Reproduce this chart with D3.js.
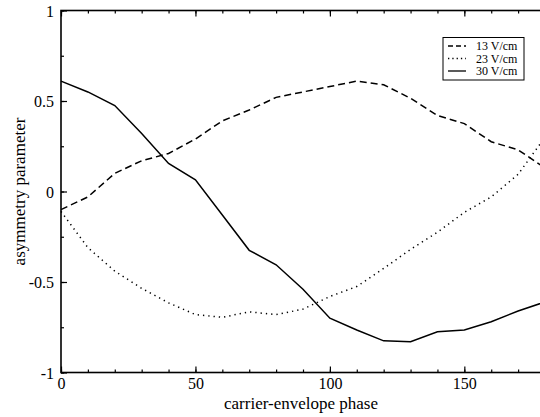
<!DOCTYPE html>
<html>
<head>
<meta charset="utf-8">
<script src="https://cdn.jsdelivr.net/npm/d3@7"></script>
<style>
  html, body { margin: 0; padding: 0; background: #fff; }
  svg { display: block; overflow: hidden; }
  text { font-family: "Liberation Serif", "Times New Roman", serif; fill: #000; }
</style>
</head>
<body>
<svg id="chart" width="540" height="417"></svg>
<script>
// Carrier-envelope phase samples (degrees)
const phase = [0, 10, 20, 30, 40, 50, 60, 70, 80, 90, 100, 110, 120, 130, 140, 150, 160, 170, 180];

// Asymmetry parameter for each field strength
const asym13 = [-0.10, -0.03, 0.10, 0.17, 0.21, 0.29, 0.39, 0.45, 0.52, 0.55, 0.58, 0.61, 0.59, 0.515, 0.42, 0.375, 0.275, 0.23, 0.13];
const asym23 = [-0.11, -0.31, -0.44, -0.535, -0.615, -0.68, -0.695, -0.665, -0.68, -0.65, -0.58, -0.525, -0.425, -0.32, -0.225, -0.115, -0.03, 0.095, 0.30];
const asym30 = [0.61, 0.55, 0.475, 0.32, 0.155, 0.065, -0.13, -0.325, -0.405, -0.54, -0.70, -0.765, -0.825, -0.83, -0.775, -0.765, -0.72, -0.66, -0.61];

const seriesNames = ["13 V/cm", "23 V/cm", "30 V/cm"];
const xMajorTicks = [0, 50, 100, 150];
const yMajorTicks = [-1, -0.5, 0, 0.5, 1];
const yTickLabels = ["-1", "-0.5", "0", "0.5", "1"];

const svg = d3.select("#chart");
const mLeft = 61, mRight = 545, mTop = 10.5, mBottom = 372.5;

const x = d3.scaleLinear().domain([0, 180]).range([mLeft, mRight]);
const y = d3.scaleLinear().domain([-1, 1]).range([mBottom, mTop]);

const series = [
  { name: seriesNames[0], values: asym13, dash: "7,4" },
  { name: seriesNames[1], values: asym23, dash: "1.3,4" },
  { name: seriesNames[2], values: asym30, dash: null }
];

const line = d3.line().x((d, i) => x(phase[i])).y(d => y(d));

// Data curves
const curves = svg.append("g");
series.forEach(s => {
  const p = curves.append("path")
    .datum(s.values)
    .attr("d", line)
    .attr("fill", "none")
    .attr("stroke", "#000")
    .attr("stroke-width", 1.5);
  if (s.dash) p.attr("stroke-dasharray", s.dash);
});

// Axes: ticks point inward, mirrored on opposite sides
const xMinor = d3.range(0, 181, 10);
const yMinor = d3.range(-1, 1.001, 0.25);

const axB = svg.append("g").attr("transform", `translate(0,${mBottom})`)
  .call(d3.axisBottom(x).tickValues(xMinor).tickSize(-3).tickFormat(""));
const axBMaj = svg.append("g").attr("transform", `translate(0,${mBottom})`)
  .call(d3.axisBottom(x).tickValues(xMajorTicks).tickSize(-6).tickPadding(5).tickFormat(d3.format("d")));
const axT = svg.append("g").attr("transform", `translate(0,${mTop})`)
  .call(d3.axisTop(x).tickValues(xMinor).tickSize(-3).tickFormat(""));
const axTMaj = svg.append("g").attr("transform", `translate(0,${mTop})`)
  .call(d3.axisTop(x).tickValues(xMajorTicks).tickSize(-6).tickFormat(""));
const axL = svg.append("g").attr("transform", `translate(${mLeft},0)`)
  .call(d3.axisLeft(y).tickValues(yMinor).tickSize(-3).tickFormat(""));
const axLMaj = svg.append("g").attr("transform", `translate(${mLeft},0)`)
  .call(d3.axisLeft(y).tickValues(yMajorTicks).tickSize(-6).tickPadding(7)
    .tickFormat((d, i) => yTickLabels[i]));
const axR = svg.append("g").attr("transform", `translate(${mRight},0)`)
  .call(d3.axisRight(y).tickValues(yMinor).tickSize(-3).tickFormat(""));

[axB, axBMaj, axT, axTMaj, axL, axLMaj, axR].forEach(g => {
  g.select(".domain").remove();
  g.selectAll(".tick line").attr("stroke", "#000").attr("stroke-width", 1.2);
  g.selectAll(".tick text").style("font-family", '"Liberation Serif", serif').style("font-size", "16px").attr("fill", "#000");
});
axBMaj.selectAll(".tick text").attr("dy", "0.71em");
axLMaj.selectAll(".tick text").attr("dy", "0.36em");

// Frame
svg.append("rect")
  .attr("x", mLeft).attr("y", mTop)
  .attr("width", mRight - mLeft).attr("height", mBottom - mTop)
  .attr("fill", "none").attr("stroke", "#000").attr("stroke-width", 1.6);

// Axis titles
svg.append("text")
  .attr("x", (mLeft + mRight) / 2 - 2).attr("y", 409)
  .attr("text-anchor", "middle")
  .style("font-size", "17px")
  .text("carrier-envelope phase");

svg.append("text")
  .attr("transform", `translate(25,${(mTop + mBottom) / 2}) rotate(-90)`)
  .attr("text-anchor", "middle")
  .style("font-size", "17px")
  .text("asymmetry parameter");

// Legend
const lg = svg.append("g");
lg.append("rect")
  .attr("x", 443).attr("y", 37.5).attr("width", 81).attr("height", 42.5)
  .attr("fill", "#fff").attr("stroke", "#000").attr("stroke-width", 1);
series.forEach((s, i) => {
  const cy = 46 + i * 12.5;
  const l = lg.append("line")
    .attr("x1", 448).attr("x2", 466).attr("y1", cy).attr("y2", cy)
    .attr("stroke", "#000").attr("stroke-width", 1.3);
  if (s.dash) l.attr("stroke-dasharray", i === 0 ? "5,3" : "1.3,3");
  lg.append("text")
    .attr("x", 476).attr("y", cy + 4)
    .style("font-size", "12px")
    .text(s.name);
});
</script>
</body>
</html>
